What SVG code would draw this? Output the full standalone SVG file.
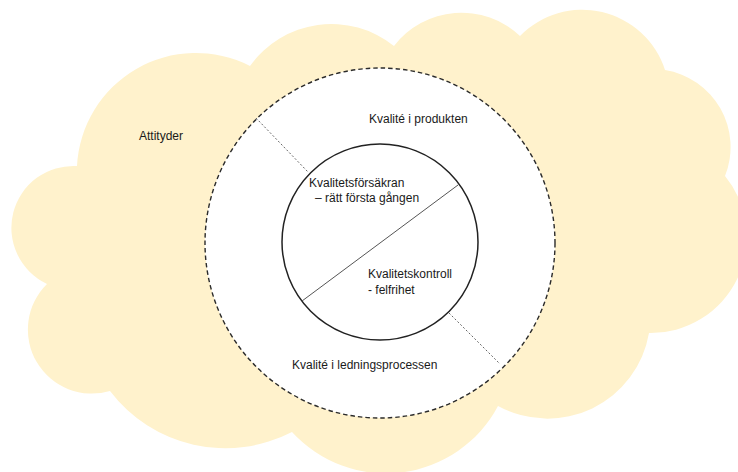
<svg xmlns="http://www.w3.org/2000/svg" width="738" height="472" viewBox="0 0 738 472">
  <style>
    .lbl { font-family: "Liberation Sans", Arial, sans-serif; font-size: 12px; fill: #1a1a1a; }
    .cloud { fill: #FFF2CC; stroke: none; }
    .ring { fill: #ffffff; stroke: #2b2b2b; stroke-width: 1.4; stroke-dasharray: 4.5 3; }
    .core { fill: #ffffff; stroke: #222222; stroke-width: 1.5; }
    .split { stroke: #555555; stroke-width: 1; fill: none; }
    .guide { stroke: #666666; stroke-width: 1; stroke-dasharray: 2 2; fill: none; }
  </style>

  <!-- background cloud: attitudes -->
  <g id="attityder">
    <path class="cloud" d="M 77 166
      A 119 119 0 0 1 250 66
      A 100 100 0 0 1 394 46
      A 85 85 0 0 1 520 36
      A 87 87 0 0 1 665 70
      A 78 78 0 0 1 725 176
      A 96 96 0 0 1 649 333
      A 103 103 0 0 1 498 406
      A 127 127 0 0 1 292 432
      A 145 145 0 0 1 110 391
      A 64 64 0 0 1 47 284
      A 62 62 0 0 1 77 166 Z"/>
    <text class="lbl" x="139" y="140">Attityder</text>
  </g>

  <!-- outer dashed ring: quality in product and management process -->
  <g id="kvalite-ring">
    <circle class="ring" cx="380" cy="243" r="175"/>
    <text class="lbl" x="369" y="123">Kvalité i produkten</text>
    <text class="lbl" x="292" y="369">Kvalité i ledningsprocessen</text>
  </g>

  <!-- inner circle: assurance and control -->
  <g id="karna">
    <circle class="core" cx="380" cy="242" r="98"/>
    <text class="lbl" x="309" y="187">Kvalitetsförsäkran</text>
    <text class="lbl" x="315" y="202">– rätt första gången</text>
    <text class="lbl" x="368" y="278">Kvalitetskontroll</text>
    <text class="lbl" x="368" y="294">- felfrihet</text>
  </g>

  <!-- dividing lines -->
  <g id="connectors">
    <line class="split" x1="458" y1="185" x2="302" y2="301"/>
    <line class="guide" x1="256" y1="118" x2="308" y2="172"/>
    <line class="guide" x1="449" y1="313" x2="500" y2="364"/>
  </g>
</svg>
